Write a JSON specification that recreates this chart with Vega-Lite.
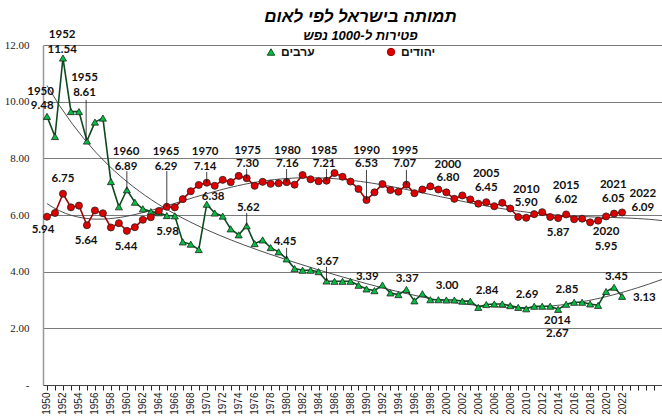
{
  "$schema": "https://vega.github.io/schema/vega-lite/v6.json",
  "width": 619,
  "height": 340,
  "autosize": "none",
  "padding": {"left": 43, "top": 45, "right": 0, "bottom": 35},
  "background": "white",
  "title": {
    "text": "תמותה בישראל לפי לאום",
    "subtitle": "פטירות ל-1000 נפש",
    "font": "Liberation Sans",
    "fontSize": 17,
    "fontWeight": "bold",
    "fontStyle": "italic",
    "subtitleFont": "Liberation Sans",
    "subtitleFontSize": 13,
    "subtitleFontWeight": "bold",
    "subtitleFontStyle": "italic",
    "subtitlePadding": 4,
    "color": "black",
    "subtitleColor": "black",
    "anchor": "middle",
    "dx": 8,
    "offset": -15
  },
  "datasets": {
    "rates": [
      {"year": 1950, "group": "ערבים", "value": 9.48}, {"year": 1951, "group": "ערבים", "value": 8.77},
      {"year": 1952, "group": "ערבים", "value": 11.54}, {"year": 1953, "group": "ערבים", "value": 9.65},
      {"year": 1954, "group": "ערבים", "value": 9.65}, {"year": 1955, "group": "ערבים", "value": 8.61},
      {"year": 1956, "group": "ערבים", "value": 9.28}, {"year": 1957, "group": "ערבים", "value": 9.42},
      {"year": 1958, "group": "ערבים", "value": 7.18}, {"year": 1959, "group": "ערבים", "value": 6.29},
      {"year": 1960, "group": "ערבים", "value": 6.89}, {"year": 1961, "group": "ערבים", "value": 6.45},
      {"year": 1962, "group": "ערבים", "value": 6.22}, {"year": 1963, "group": "ערבים", "value": 6.12},
      {"year": 1964, "group": "ערבים", "value": 6.08}, {"year": 1965, "group": "ערבים", "value": 5.98},
      {"year": 1966, "group": "ערבים", "value": 5.97}, {"year": 1967, "group": "ערבים", "value": 5.05},
      {"year": 1968, "group": "ערבים", "value": 4.97}, {"year": 1969, "group": "ערבים", "value": 4.78},
      {"year": 1970, "group": "ערבים", "value": 6.38}, {"year": 1971, "group": "ערבים", "value": 6.07},
      {"year": 1972, "group": "ערבים", "value": 5.96}, {"year": 1973, "group": "ערבים", "value": 5.51},
      {"year": 1974, "group": "ערבים", "value": 5.30}, {"year": 1975, "group": "ערבים", "value": 5.62},
      {"year": 1976, "group": "ערבים", "value": 4.99}, {"year": 1977, "group": "ערבים", "value": 5.12},
      {"year": 1978, "group": "ערבים", "value": 4.85}, {"year": 1979, "group": "ערבים", "value": 4.70},
      {"year": 1980, "group": "ערבים", "value": 4.45}, {"year": 1981, "group": "ערבים", "value": 4.11},
      {"year": 1982, "group": "ערבים", "value": 4.05}, {"year": 1983, "group": "ערבים", "value": 4.05},
      {"year": 1984, "group": "ערבים", "value": 4.00}, {"year": 1985, "group": "ערבים", "value": 3.67},
      {"year": 1986, "group": "ערבים", "value": 3.66}, {"year": 1987, "group": "ערבים", "value": 3.66},
      {"year": 1988, "group": "ערבים", "value": 3.66}, {"year": 1989, "group": "ערבים", "value": 3.52},
      {"year": 1990, "group": "ערבים", "value": 3.39}, {"year": 1991, "group": "ערבים", "value": 3.33},
      {"year": 1992, "group": "ערבים", "value": 3.53}, {"year": 1993, "group": "ערבים", "value": 3.25},
      {"year": 1994, "group": "ערבים", "value": 3.19}, {"year": 1995, "group": "ערבים", "value": 3.37},
      {"year": 1996, "group": "ערבים", "value": 2.97}, {"year": 1997, "group": "ערבים", "value": 3.22},
      {"year": 1998, "group": "ערבים", "value": 3.01}, {"year": 1999, "group": "ערבים", "value": 3.01},
      {"year": 2000, "group": "ערבים", "value": 3.00}, {"year": 2001, "group": "ערבים", "value": 3.00},
      {"year": 2002, "group": "ערבים", "value": 2.96}, {"year": 2003, "group": "ערבים", "value": 2.96},
      {"year": 2004, "group": "ערבים", "value": 2.74}, {"year": 2005, "group": "ערבים", "value": 2.84},
      {"year": 2006, "group": "ערבים", "value": 2.86}, {"year": 2007, "group": "ערבים", "value": 2.86},
      {"year": 2008, "group": "ערבים", "value": 2.80}, {"year": 2009, "group": "ערבים", "value": 2.74},
      {"year": 2010, "group": "ערבים", "value": 2.69}, {"year": 2011, "group": "ערבים", "value": 2.78},
      {"year": 2012, "group": "ערבים", "value": 2.78}, {"year": 2013, "group": "ערבים", "value": 2.78},
      {"year": 2014, "group": "ערבים", "value": 2.67}, {"year": 2015, "group": "ערבים", "value": 2.85},
      {"year": 2016, "group": "ערבים", "value": 2.92}, {"year": 2017, "group": "ערבים", "value": 2.92},
      {"year": 2018, "group": "ערבים", "value": 2.86}, {"year": 2019, "group": "ערבים", "value": 2.81},
      {"year": 2020, "group": "ערבים", "value": 3.30}, {"year": 2021, "group": "ערבים", "value": 3.45},
      {"year": 2022, "group": "ערבים", "value": 3.13},
      {"year": 1950, "group": "יהודים", "value": 5.94}, {"year": 1951, "group": "יהודים", "value": 6.07},
      {"year": 1952, "group": "יהודים", "value": 6.75}, {"year": 1953, "group": "יהודים", "value": 6.27},
      {"year": 1954, "group": "יהודים", "value": 6.33}, {"year": 1955, "group": "יהודים", "value": 5.64},
      {"year": 1956, "group": "יהודים", "value": 6.16}, {"year": 1957, "group": "יהודים", "value": 6.06},
      {"year": 1958, "group": "יהודים", "value": 5.56}, {"year": 1959, "group": "יהודים", "value": 5.71},
      {"year": 1960, "group": "יהודים", "value": 5.44}, {"year": 1961, "group": "יהודים", "value": 5.57},
      {"year": 1962, "group": "יהודים", "value": 5.83}, {"year": 1963, "group": "יהודים", "value": 5.92},
      {"year": 1964, "group": "יהודים", "value": 6.14}, {"year": 1965, "group": "יהודים", "value": 6.29},
      {"year": 1966, "group": "יהודים", "value": 6.27}, {"year": 1967, "group": "יהודים", "value": 6.56},
      {"year": 1968, "group": "יהודים", "value": 6.84}, {"year": 1969, "group": "יהודים", "value": 7.06},
      {"year": 1970, "group": "יהודים", "value": 7.14}, {"year": 1971, "group": "יהודים", "value": 7.03},
      {"year": 1972, "group": "יהודים", "value": 7.24}, {"year": 1973, "group": "יהודים", "value": 7.16},
      {"year": 1974, "group": "יהודים", "value": 7.38}, {"year": 1975, "group": "יהודים", "value": 7.30},
      {"year": 1976, "group": "יהודים", "value": 7.03}, {"year": 1977, "group": "יהודים", "value": 7.17},
      {"year": 1978, "group": "יהודים", "value": 7.10}, {"year": 1979, "group": "יהודים", "value": 7.12},
      {"year": 1980, "group": "יהודים", "value": 7.16}, {"year": 1981, "group": "יהודים", "value": 7.07},
      {"year": 1982, "group": "יהודים", "value": 7.41}, {"year": 1983, "group": "יהודים", "value": 7.26},
      {"year": 1984, "group": "יהודים", "value": 7.19}, {"year": 1985, "group": "יהודים", "value": 7.21},
      {"year": 1986, "group": "יהודים", "value": 7.48}, {"year": 1987, "group": "יהודים", "value": 7.35},
      {"year": 1988, "group": "יהודים", "value": 7.18}, {"year": 1989, "group": "יהודים", "value": 6.92},
      {"year": 1990, "group": "יהודים", "value": 6.53}, {"year": 1991, "group": "יהודים", "value": 6.80},
      {"year": 1992, "group": "יהודים", "value": 7.09}, {"year": 1993, "group": "יהודים", "value": 6.88},
      {"year": 1994, "group": "יהודים", "value": 6.82}, {"year": 1995, "group": "יהודים", "value": 7.07},
      {"year": 1996, "group": "יהודים", "value": 6.77}, {"year": 1997, "group": "יהודים", "value": 6.90},
      {"year": 1998, "group": "יהודים", "value": 7.01}, {"year": 1999, "group": "יהודים", "value": 6.90},
      {"year": 2000, "group": "יהודים", "value": 6.80}, {"year": 2001, "group": "יהודים", "value": 6.57},
      {"year": 2002, "group": "יהודים", "value": 6.69}, {"year": 2003, "group": "יהודים", "value": 6.55},
      {"year": 2004, "group": "יהודים", "value": 6.40}, {"year": 2005, "group": "יהודים", "value": 6.45},
      {"year": 2006, "group": "יהודים", "value": 6.31}, {"year": 2007, "group": "יהודים", "value": 6.43},
      {"year": 2008, "group": "יהודים", "value": 6.23}, {"year": 2009, "group": "יהודים", "value": 5.93},
      {"year": 2010, "group": "יהודים", "value": 5.90}, {"year": 2011, "group": "יהודים", "value": 6.03},
      {"year": 2012, "group": "יהודים", "value": 6.10}, {"year": 2013, "group": "יהודים", "value": 5.93},
      {"year": 2014, "group": "יהודים", "value": 5.89}, {"year": 2015, "group": "יהודים", "value": 6.02},
      {"year": 2016, "group": "יהודים", "value": 5.85}, {"year": 2017, "group": "יהודים", "value": 5.87},
      {"year": 2018, "group": "יהודים", "value": 5.74}, {"year": 2019, "group": "יהודים", "value": 5.80},
      {"year": 2020, "group": "יהודים", "value": 5.95}, {"year": 2021, "group": "יהודים", "value": 6.05},
      {"year": 2022, "group": "יהודים", "value": 6.09}
    ],
    "notes": [
      {"year": 1951.9, "level": 12.35, "text": "1952"}, {"year": 1951.9, "level": 11.82, "text": "11.54"},
      {"year": 1949.2, "level": 10.34, "text": "1950"}, {"year": 1949.4, "level": 9.85, "text": "9.48"},
      {"year": 1954.7, "level": 10.84, "text": "1955"}, {"year": 1954.7, "level": 10.31, "text": "8.61"},
      {"year": 1959.9, "level": 8.22, "text": "1960"}, {"year": 1959.9, "level": 7.69, "text": "6.89"},
      {"year": 1964.9, "level": 8.22, "text": "1965"}, {"year": 1964.9, "level": 7.69, "text": "6.29"},
      {"year": 1969.8, "level": 8.22, "text": "1970"}, {"year": 1969.8, "level": 7.69, "text": "7.14"},
      {"year": 1975.1, "level": 8.26, "text": "1975"}, {"year": 1975.1, "level": 7.8, "text": "7.30"},
      {"year": 1980.1, "level": 8.26, "text": "1980"}, {"year": 1980.1, "level": 7.8, "text": "7.16"},
      {"year": 1984.7, "level": 8.26, "text": "1985"}, {"year": 1984.7, "level": 7.8, "text": "7.21"},
      {"year": 1990.0, "level": 8.26, "text": "1990"}, {"year": 1990.0, "level": 7.8, "text": "6.53"},
      {"year": 1994.8, "level": 8.26, "text": "1995"}, {"year": 1994.8, "level": 7.8, "text": "7.07"},
      {"year": 2000.2, "level": 7.77, "text": "2000"}, {"year": 2000.2, "level": 7.31, "text": "6.80"},
      {"year": 2005.0, "level": 7.45, "text": "2005"}, {"year": 2005.0, "level": 6.95, "text": "6.45"},
      {"year": 2010.0, "level": 6.88, "text": "2010"}, {"year": 2010.0, "level": 6.42, "text": "5.90"},
      {"year": 2015.0, "level": 7.02, "text": "2015"}, {"year": 2015.0, "level": 6.53, "text": "6.02"},
      {"year": 2020.9, "level": 7.06, "text": "2021"}, {"year": 2020.9, "level": 6.57, "text": "6.05"},
      {"year": 2024.6, "level": 6.74, "text": "2022"}, {"year": 2024.6, "level": 6.25, "text": "6.09"},
      {"year": 2014.0, "level": 5.37, "text": "5.87"},
      {"year": 2020.0, "level": 5.4, "text": "2020"}, {"year": 2020.0, "level": 4.87, "text": "5.95"},
      {"year": 1952.0, "level": 7.27, "text": "6.75"},
      {"year": 1949.5, "level": 5.47, "text": "5.94"},
      {"year": 1954.9, "level": 5.08, "text": "5.64"},
      {"year": 1959.9, "level": 4.87, "text": "5.44"},
      {"year": 1965.1, "level": 5.4, "text": "5.98"},
      {"year": 1970.8, "level": 6.64, "text": "6.38"},
      {"year": 1975.2, "level": 6.25, "text": "5.62"},
      {"year": 1979.8, "level": 5.05, "text": "4.45"},
      {"year": 1985.1, "level": 4.34, "text": "3.67"},
      {"year": 1990.1, "level": 3.81, "text": "3.39"},
      {"year": 1995.1, "level": 3.74, "text": "3.37"},
      {"year": 2000.1, "level": 3.49, "text": "3.00"},
      {"year": 2005.1, "level": 3.32, "text": "2.84"},
      {"year": 2010.1, "level": 3.18, "text": "2.69"},
      {"year": 2015.1, "level": 3.35, "text": "2.85"},
      {"year": 2013.9, "level": 2.26, "text": "2014"}, {"year": 2013.9, "level": 1.8, "text": "2.67"},
      {"year": 2021.3, "level": 3.81, "text": "3.45"},
      {"year": 2024.8, "level": 3.07, "text": "3.13"}
    ],
    "leaders": [
      {"year": 1954.9, "top": 10.06, "bottom": 8.61},
      {"year": 1960.0, "top": 7.55, "bottom": 6.89},
      {"year": 1965.0, "top": 7.55, "bottom": 6.29},
      {"year": 1970.0, "top": 7.52, "bottom": 7.14},
      {"year": 1975.0, "top": 7.62, "bottom": 7.30},
      {"year": 1980.0, "top": 7.62, "bottom": 7.16},
      {"year": 1985.0, "top": 7.62, "bottom": 7.21},
      {"year": 1990.0, "top": 7.59, "bottom": 6.53},
      {"year": 1995.0, "top": 7.59, "bottom": 7.07},
      {"year": 1975.0, "top": 6.07, "bottom": 5.62},
      {"year": 1980.0, "top": 4.84, "bottom": 4.45},
      {"year": 1985.0, "top": 4.17, "bottom": 3.67}
    ]
  },
  "encoding": {
    "x": {"field": "year", "type": "quantitative", "scale": {"domain": [1949.5, 2027], "nice": false, "zero": false},
      "axis": {"title": null, "values": [1950,1951,1952,1953,1954,1955,1956,1957,1958,1959,1960,1961,1962,1963,1964,1965,1966,1967,1968,1969,1970,1971,1972,1973,1974,1975,1976,1977,1978,1979,1980,1981,1982,1983,1984,1985,1986,1987,1988,1989,1990,1991,1992,1993,1994,1995,1996,1997,1998,1999,2000,2001,2002,2003,2004,2005,2006,2007,2008,2009,2010,2011,2012,2013,2014,2015,2016,2017,2018,2019,2020,2021,2022,2023,2024,2025,2026,2027],
        "labelExpr": "(datum.value % 2 == 0 && datum.value <= 2022) ? format(datum.value, 'd') : ''",
        "labelAngle": 270, "labelFont": "Liberation Sans", "labelFontSize": 10, "labelColor": "#222",
        "labelPadding": 2, "tickSize": 5, "tickColor": "#222", "domainColor": "#444", "domainWidth": 1.2,
        "grid": false, "labelOverlap": false, "labelBound": false, "labelFlush": false}}
  },
  "layer": [
    {
      "data": {"name": "rates"},
      "transform": [
        {"regression": "value", "on": "year", "groupby": ["group"], "method": "poly", "order": 5, "extent": [1950, 2027]}
      ],
      "mark": {"type": "line", "color": "#3a3a3a", "strokeWidth": 0.9},
      "encoding": {
        "y": {"field": "value", "type": "quantitative", "scale": {"domain": [0, 12], "nice": false, "zero": true},
          "axis": {"title": null, "values": [0, 2, 4, 6, 8, 10, 12],
            "labelExpr": "datum.value == 0 ? '-' : format(datum.value, '.2f')",
            "labelFont": "Liberation Serif", "labelFontSize": 11, "labelColor": "#222", "labelPadding": 14,
            "ticks": false, "domainColor": "#999", "domainWidth": 1.5,
            "grid": true, "gridColor": "#7a7a7a", "gridWidth": 1.2}},
        "detail": {"field": "group", "type": "nominal"}
      }
    },
    {
      "data": {"name": "rates"},
      "mark": {"type": "line", "strokeWidth": 1.6},
      "encoding": {
        "y": {"field": "value", "type": "quantitative", "axis": {"title": null}},
        "stroke": {"field": "group", "type": "nominal", "scale": {"domain": ["ערבים", "יהודים"], "range": ["#0d4a1f", "#a00000"]},
          "legend": {"title": null, "orient": "none", "legendX": 222, "legendY": 1, "direction": "horizontal",
            "labelFont": "Liberation Sans", "labelFontSize": 12, "labelFontWeight": "bold", "labelColor": "#111",
            "symbolStrokeWidth": 1, "symbolSize": 55, "columnPadding": 70}}
      }
    },
    {
      "data": {"name": "rates"},
      "mark": {"type": "point", "filled": true, "size": 50, "stroke": "#222", "strokeWidth": 0.8, "opacity": 1},
      "encoding": {
        "y": {"field": "value", "type": "quantitative", "axis": {"title": null}},
        "fill": {"field": "group", "type": "nominal", "scale": {"domain": ["ערבים", "יהודים"], "range": ["#00c040", "#e00000"]},
          "legend": {"title": null, "orient": "none", "legendX": 222, "legendY": 1, "direction": "horizontal",
            "labelFont": "Liberation Sans", "labelFontSize": 12, "labelFontWeight": "bold", "labelColor": "#111",
            "symbolStrokeWidth": 1, "symbolSize": 55, "columnPadding": 70}},
        "shape": {"field": "group", "type": "nominal", "scale": {"domain": ["ערבים", "יהודים"], "range": ["triangle-up", "circle"]},
          "legend": {"title": null, "orient": "none", "legendX": 222, "legendY": 1, "direction": "horizontal",
            "labelFont": "Liberation Sans", "labelFontSize": 12, "labelFontWeight": "bold", "labelColor": "#111",
            "symbolStrokeWidth": 1, "symbolSize": 55, "columnPadding": 70}}
      }
    },
    {
      "data": {"name": "leaders"},
      "mark": {"type": "rule", "color": "#111", "strokeWidth": 0.8},
      "encoding": {
        "y": {"field": "top", "type": "quantitative", "axis": {"title": null}},
        "y2": {"field": "bottom"}
      }
    },
    {
      "data": {"name": "notes"},
      "mark": {"type": "text", "font": "Lato", "fontSize": 11.5, "fontWeight": "bold", "color": "#111", "baseline": "middle", "align": "center"},
      "encoding": {
        "y": {"field": "level", "type": "quantitative", "axis": {"title": null}},
        "text": {"field": "text", "type": "nominal"}
      }
    }
  ],
  "config": {
    "view": {"stroke": null}
  }
}
